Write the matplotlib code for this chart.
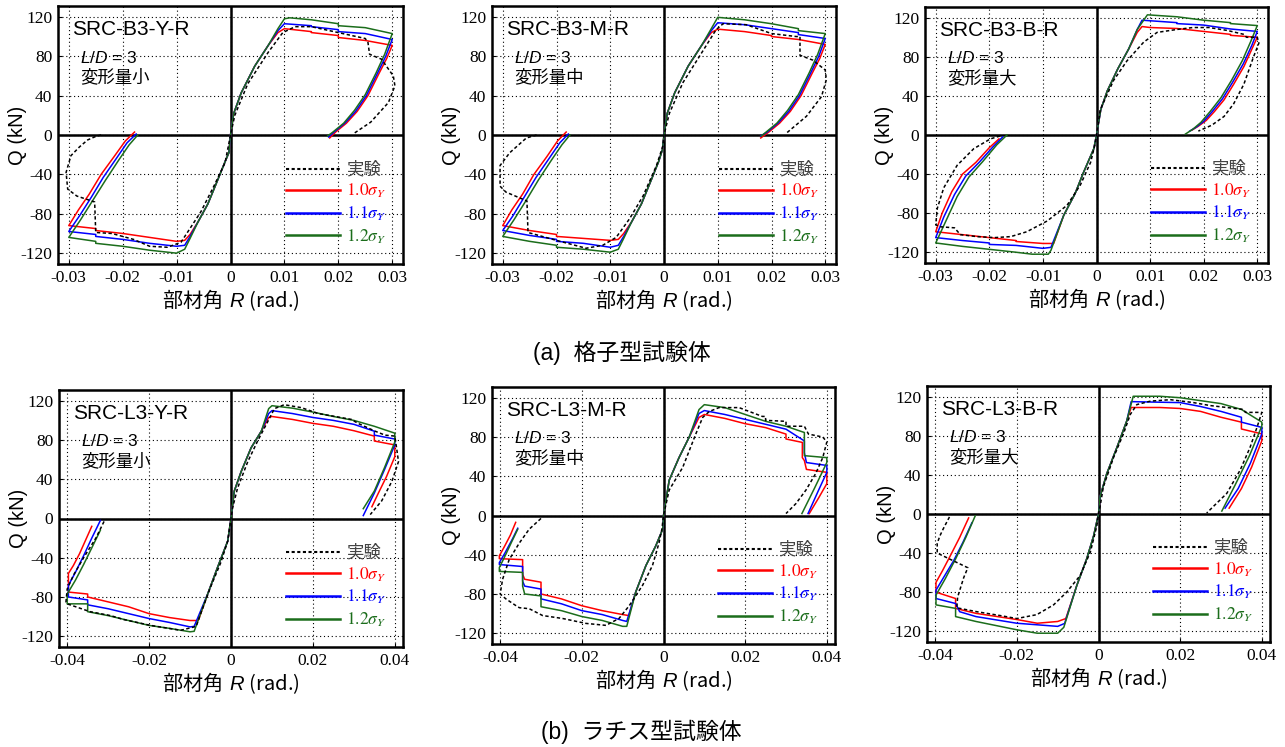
"""Load-deformation hysteresis (Q vs R): test vs. analysis with 1.0/1.1/1.2 sigma_Y."""
import matplotlib
matplotlib.use("Agg")
import matplotlib.pyplot as plt
from matplotlib.lines import Line2D

plt.rcParams["font.family"] = ["Liberation Sans", "Noto Sans CJK JP", "DejaVu Sans"]
plt.rcParams["axes.unicode_minus"] = False
plt.rcParams["mathtext.fontset"] = "custom"
plt.rcParams["mathtext.rm"] = "Liberation Sans"
plt.rcParams["mathtext.it"] = "Liberation Sans:italic"

W, H = 1285, 747

# ---- data: (R [rad], Q [kN]) ----
# (a) lattice type, L/D = 3
b3y_exp = [(-0.0240, 0), (-0.0248, -1), (-0.0265, -5), (-0.0280, -12), (-0.0296, -21), (-0.0305, -38),
           (-0.0302, -55), (-0.0285, -62), (-0.0252, -68), (-0.0250, -99), (-0.0220, -100), (-0.0180, -106),
           (-0.0150, -113), (-0.0117, -114), (-0.0092, -109), (-0.0080, -99), (-0.0055, -78), (-0.0030, -51),
           (-0.0010, -28), (0.0, 0), (0.0008, 20), (0.0032, 52), (0.0070, 84), (0.0097, 104), (0.0120, 110),
           (0.0150, 110), (0.0200, 104), (0.0250, 98), (0.0255, 94), (0.0258, 82), (0.0280, 77), (0.0302, 60),
           (0.0305, 50), (0.0293, 33), (0.0260, 13), (0.0230, 2)]
b3y_10 = [(-0.0178, 3), (-0.0195, -6), (-0.0216, -22), (-0.0240, -40), (-0.0262, -60), (-0.0282, -76),
          (-0.0300, -92), (-0.0250, -95), (-0.0250, -97), (-0.0200, -100), (-0.0150, -104), (-0.0100, -108),
          (-0.0085, -107), (-0.0075, -101), (-0.0060, -88), (-0.0042, -70), (-0.0024, -46), (-0.0010, -27),
          (-0.0003, -18), (0.0, 0), (0.0006, 22), (0.0020, 43), (0.0045, 70), (0.0070, 91), (0.0088, 104),
          (0.0100, 108), (0.0150, 105), (0.0150, 104), (0.0200, 101), (0.0200, 99), (0.0250, 96), (0.0300, 91),
          (0.0290, 78), (0.0275, 62), (0.0255, 40), (0.0235, 24), (0.0215, 12), (0.0195, 3), (0.0184, -3)]
b3y_11 = [(-0.0175, 1), (-0.0192, -8), (-0.0212, -24), (-0.0236, -43), (-0.0258, -63), (-0.0280, -82),
          (-0.0300, -98), (-0.0250, -101), (-0.0250, -103), (-0.0200, -106), (-0.0150, -110), (-0.0100, -113),
          (-0.0085, -112), (-0.0075, -103), (-0.0060, -88), (-0.0042, -70), (-0.0024, -46), (-0.0010, -27),
          (-0.0003, -18), (0.0, 0), (0.0006, 22), (0.0020, 43), (0.0045, 70), (0.0070, 91), (0.0088, 106),
          (0.0100, 113), (0.0150, 111), (0.0150, 110), (0.0200, 107), (0.0200, 105), (0.0250, 103), (0.0300, 97),
          (0.0288, 80), (0.0272, 62), (0.0252, 40), (0.0232, 24), (0.0212, 12), (0.0192, 3), (0.0182, -2)]
b3y_12 = [(-0.0172, 0), (-0.0188, -10), (-0.0208, -26), (-0.0232, -46), (-0.0255, -66), (-0.0278, -86),
          (-0.0300, -104), (-0.0250, -108), (-0.0250, -110), (-0.0200, -113), (-0.0150, -117), (-0.0100, -120),
          (-0.0085, -116), (-0.0075, -105), (-0.0060, -88), (-0.0042, -70), (-0.0024, -46), (-0.0010, -27),
          (-0.0003, -18), (0.0, 0), (0.0006, 22), (0.0020, 43), (0.0045, 70), (0.0070, 91), (0.0088, 108),
          (0.0100, 118), (0.0110, 119), (0.0150, 117), (0.0200, 113), (0.0200, 111), (0.0250, 109), (0.0300, 103),
          (0.0286, 82), (0.0270, 63), (0.0250, 41), (0.0230, 25), (0.0210, 12), (0.0190, 3), (0.0180, -1)]

b3m_exp = [(-0.0237, 0), (-0.0256, -3), (-0.0287, -18), (-0.0305, -31), (-0.0305, -52), (-0.0294, -58),
           (-0.0255, -67), (-0.0253, -99), (-0.0200, -107), (-0.0145, -115), (-0.0114, -112), (-0.0089, -104),
           (-0.0064, -85), (-0.0039, -62), (-0.0014, -31), (-0.0002, -11), (0.0, 0), (0.0010, 22), (0.0035, 53),
           (0.0073, 86), (0.0097, 107), (0.0110, 113), (0.0153, 112), (0.0200, 103), (0.0246, 100), (0.0253, 100),
           (0.0253, 81), (0.0277, 76), (0.0300, 66), (0.0302, 56), (0.0293, 39), (0.0265, 19), (0.0228, 2)]
b3m_10 = [(-0.0182, 3), (-0.0198, -6), (-0.0218, -22), (-0.0242, -40), (-0.0263, -60), (-0.0283, -76),
          (-0.0300, -92), (-0.0250, -97), (-0.0200, -101), (-0.0200, -103), (-0.0150, -105), (-0.0100, -107),
          (-0.0085, -106), (-0.0075, -100), (-0.0060, -88), (-0.0042, -70), (-0.0024, -46), (-0.0010, -27),
          (-0.0003, -15), (0.0, 0), (0.0006, 22), (0.0020, 43), (0.0045, 70), (0.0070, 91), (0.0088, 104),
          (0.0100, 107.5), (0.0150, 105), (0.0200, 101), (0.0200, 100), (0.0250, 97), (0.0300, 92),
          (0.0290, 78), (0.0275, 62), (0.0255, 40), (0.0235, 24), (0.0215, 12), (0.0195, 3), (0.0180, -3)]
b3m_11 = [(-0.0178, 1), (-0.0194, -8), (-0.0214, -24), (-0.0238, -43), (-0.0260, -63), (-0.0281, -82),
          (-0.0300, -97), (-0.0250, -102), (-0.0200, -106), (-0.0200, -108), (-0.0150, -110), (-0.0100, -114),
          (-0.0085, -112), (-0.0075, -103), (-0.0060, -88), (-0.0042, -70), (-0.0024, -46), (-0.0010, -27),
          (-0.0003, -15), (0.0, 0), (0.0006, 22), (0.0020, 43), (0.0045, 70), (0.0070, 91), (0.0088, 106),
          (0.0100, 114), (0.0150, 112), (0.0200, 108), (0.0250, 104), (0.0250, 102), (0.0300, 98),
          (0.0288, 80), (0.0272, 62), (0.0252, 40), (0.0232, 24), (0.0212, 12), (0.0192, 3), (0.0180, -1)]
b3m_12 = [(-0.0175, 0), (-0.0190, -10), (-0.0210, -26), (-0.0234, -46), (-0.0256, -66), (-0.0279, -86),
          (-0.0300, -103), (-0.0250, -108), (-0.0200, -112), (-0.0200, -114), (-0.0150, -116), (-0.0100, -119),
          (-0.0085, -116), (-0.0075, -105), (-0.0060, -88), (-0.0042, -70), (-0.0024, -46), (-0.0010, -27),
          (-0.0003, -15), (0.0, 0), (0.0006, 22), (0.0020, 43), (0.0045, 70), (0.0070, 91), (0.0088, 108),
          (0.0100, 119.5), (0.0150, 117), (0.0200, 113), (0.0250, 108), (0.0250, 106), (0.0300, 103),
          (0.0286, 82), (0.0270, 63), (0.0250, 41), (0.0230, 25), (0.0210, 12), (0.0190, 3), (0.0181, -1)]

b3b_exp = [(-0.0180, -1), (-0.0198, -4), (-0.0229, -14), (-0.0260, -31), (-0.0285, -54), (-0.0297, -75),
           (-0.0300, -92), (-0.0290, -94), (-0.0265, -95), (-0.0254, -102), (-0.0223, -104), (-0.0190, -105),
           (-0.0160, -104), (-0.0130, -99), (-0.0092, -88), (-0.0055, -72), (-0.0030, -51), (-0.0011, -28),
           (-0.0002, -8), (0.0, 0), (0.0007, 26), (0.0032, 56), (0.0057, 76), (0.0088, 95), (0.0113, 105),
           (0.0150, 108), (0.0180, 110), (0.0210, 110), (0.0244, 107), (0.0275, 103), (0.0280, 100), (0.0300, 100),
           (0.0303, 94), (0.0293, 80), (0.0275, 52), (0.0256, 32), (0.0238, 19), (0.0215, 10), (0.0190, 4)]
b3b_10 = [(-0.0182, -4), (-0.0200, -13), (-0.0225, -28), (-0.0250, -40), (-0.0270, -58), (-0.0288, -80),
          (-0.0300, -99), (-0.0250, -102), (-0.0200, -105), (-0.0150, -108), (-0.0150, -109), (-0.0100, -111),
          (-0.0080, -111), (-0.0061, -82), (-0.0040, -60), (-0.0024, -38), (-0.0005, -14), (0.0, 0),
          (0.0008, 26), (0.0020, 45), (0.0040, 68), (0.0060, 88), (0.0076, 105), (0.0085, 111), (0.0100, 110),
          (0.0150, 109), (0.0200, 106), (0.0250, 103), (0.0250, 102), (0.0300, 100), (0.0290, 88), (0.0275, 70),
          (0.0256, 52), (0.0238, 36), (0.0220, 24), (0.0205, 15), (0.0190, 9), (0.0178, 5)]
b3b_11 = [(-0.0175, -2), (-0.0193, -12), (-0.0219, -28), (-0.0244, -42), (-0.0265, -61), (-0.0285, -84),
          (-0.0300, -105), (-0.0250, -108), (-0.0200, -110.5), (-0.0200, -112), (-0.0150, -113), (-0.0100, -116),
          (-0.0085, -115), (-0.0061, -82), (-0.0040, -60), (-0.0024, -38), (-0.0005, -14), (0.0, 0),
          (0.0008, 26), (0.0020, 45), (0.0040, 68), (0.0060, 88), (0.0076, 108), (0.0085, 117.5), (0.0150, 115),
          (0.0150, 114), (0.0200, 112.5), (0.0250, 108.5), (0.0300, 106), (0.0290, 92), (0.0274, 73),
          (0.0254, 54), (0.0235, 37), (0.0216, 24), (0.0200, 14), (0.0186, 8), (0.0174, 4)]
b3b_12 = [(-0.0167, 0), (-0.0186, -10), (-0.0212, -27), (-0.0238, -43), (-0.0260, -63), (-0.0281, -88),
          (-0.0300, -110.5), (-0.0250, -114), (-0.0200, -117), (-0.0150, -120), (-0.0120, -122), (-0.0090, -122),
          (-0.0085, -118), (-0.0061, -82), (-0.0040, -60), (-0.0024, -38), (-0.0005, -14), (0.0, 0),
          (0.0008, 26), (0.0020, 45), (0.0040, 68), (0.0060, 88), (0.0076, 108), (0.0095, 123), (0.0150, 121),
          (0.0200, 117.5), (0.0250, 115), (0.0250, 114), (0.0300, 112), (0.0288, 96), (0.0272, 76),
          (0.0252, 56), (0.0232, 38), (0.0212, 24), (0.0195, 13), (0.0180, 6), (0.0166, 1)]

# (b) lattice-bar (ラチス) type, L/D = 3
l3y_exp = [(-0.0310, -3), (-0.0330, -20), (-0.0360, -40), (-0.0385, -58), (-0.0400, -72), (-0.0403, -85),
           (-0.0400, -87), (-0.0344, -95), (-0.0294, -99), (-0.0262, -103), (-0.0196, -109), (-0.0123, -114),
           (-0.0085, -110), (-0.0074, -97), (-0.0050, -70), (-0.0025, -45), (-0.0008, -23), (0.0, 0),
           (0.0004, 11), (0.0016, 31), (0.0041, 58), (0.0065, 79), (0.0090, 99), (0.0106, 112), (0.0130, 116),
           (0.0172, 113), (0.0213, 107), (0.0254, 104), (0.0294, 101), (0.0310, 97), (0.0352, 89), (0.0376, 85),
           (0.0400, 84), (0.0405, 70), (0.0409, 58), (0.0393, 38), (0.0368, 18), (0.0340, 4)]
l3y_10 = [(-0.0340, -8), (-0.0355, -22), (-0.0370, -36), (-0.0385, -48), (-0.0397, -56), (-0.0397, -75),
          (-0.0350, -77), (-0.0350, -80), (-0.0300, -85), (-0.0250, -90), (-0.0200, -97), (-0.0150, -101),
          (-0.0100, -104), (-0.0080, -104), (-0.0057, -77), (-0.0033, -50), (-0.0008, -23), (0.0, 0),
          (0.0008, 28), (0.0025, 48), (0.0049, 72), (0.0074, 89), (0.0092, 103), (0.0100, 104), (0.0150, 101),
          (0.0200, 97), (0.0250, 94), (0.0300, 89.5), (0.0350, 84), (0.0350, 79), (0.0400, 75), (0.0400, 63),
          (0.0380, 43), (0.0360, 26), (0.0344, 12)]
l3y_11 = [(-0.0319, -2), (-0.0340, -20), (-0.0360, -38), (-0.0380, -55), (-0.0397, -68), (-0.0397, -80),
          (-0.0350, -83), (-0.0350, -88), (-0.0300, -92), (-0.0250, -97), (-0.0200, -102), (-0.0150, -106),
          (-0.0100, -110.5), (-0.0090, -110), (-0.0057, -77), (-0.0033, -50), (-0.0008, -23), (0.0, 0),
          (0.0008, 28), (0.0025, 48), (0.0049, 72), (0.0074, 89), (0.0092, 107), (0.0100, 110), (0.0150, 107),
          (0.0200, 103), (0.0250, 100), (0.0300, 96), (0.0350, 89), (0.0350, 85), (0.0400, 81), (0.0400, 75),
          (0.0375, 50), (0.0350, 26), (0.0323, 3)]
l3y_12 = [(-0.0319, -12), (-0.0340, -30), (-0.0360, -47), (-0.0380, -63), (-0.0400, -77), (-0.0400, -87),
          (-0.0350, -87), (-0.0350, -95), (-0.0300, -99), (-0.0250, -104), (-0.0200, -109), (-0.0150, -112),
          (-0.0100, -115.5), (-0.0090, -115), (-0.0057, -77), (-0.0033, -50), (-0.0008, -23), (0.0, 0),
          (0.0008, 28), (0.0025, 48), (0.0049, 72), (0.0074, 89), (0.0092, 112), (0.0100, 115), (0.0150, 112.5),
          (0.0200, 108.5), (0.0250, 104), (0.0300, 100), (0.0350, 94), (0.0400, 87), (0.0400, 78),
          (0.0375, 52), (0.0350, 28), (0.0323, 10)]

l3m_exp = [(-0.0300, -3), (-0.0329, -14), (-0.0353, -28), (-0.0378, -45), (-0.0394, -65), (-0.0400, -80),
           (-0.0386, -85), (-0.0361, -92), (-0.0353, -94), (-0.0329, -95), (-0.0296, -102), (-0.0247, -105),
           (-0.0190, -110), (-0.0141, -112), (-0.0109, -105), (-0.0084, -92), (-0.0051, -71), (-0.0027, -51),
           (-0.0011, -28), (-0.0004, -14), (0.0, 0), (0.0014, 26), (0.0047, 49), (0.0079, 83), (0.0096, 100),
           (0.0112, 106), (0.0136, 110), (0.0185, 110), (0.0242, 101), (0.0250, 101), (0.0250, 97), (0.0300, 96),
           (0.0300, 91), (0.0345, 91), (0.0355, 83), (0.0390, 80), (0.0400, 75), (0.0390, 59), (0.0373, 43),
           (0.0349, 26), (0.0324, 12), (0.0300, 2)]
l3m_10 = [(-0.0362, -7), (-0.0375, -20), (-0.0390, -32), (-0.0402, -41), (-0.0402, -44), (-0.0345, -45),
          (-0.0345, -60), (-0.0340, -65), (-0.0300, -68), (-0.0300, -80), (-0.0250, -85), (-0.0200, -92),
          (-0.0150, -97), (-0.0100, -101), (-0.0085, -102), (-0.0068, -78), (-0.0043, -51), (-0.0019, -31),
          (-0.0002, -14), (0.0, 0), (0.0014, 36), (0.0038, 59), (0.0063, 80), (0.0087, 100), (0.0100, 103),
          (0.0150, 99), (0.0200, 93.6), (0.0250, 89.6), (0.0300, 83), (0.0300, 78), (0.0340, 74.5),
          (0.0340, 59), (0.0345, 56), (0.0350, 47), (0.0400, 44), (0.0400, 32.5), (0.0380, 18), (0.0357, 2)]
l3m_11 = [(-0.0357, -13), (-0.0370, -24), (-0.0388, -38), (-0.0402, -48), (-0.0402, -50), (-0.0345, -52),
          (-0.0345, -67), (-0.0340, -72), (-0.0300, -75), (-0.0300, -85), (-0.0250, -90), (-0.0200, -97),
          (-0.0150, -101), (-0.0100, -107), (-0.0090, -108), (-0.0068, -78), (-0.0043, -51), (-0.0019, -31),
          (-0.0002, -14), (0.0, 0), (0.0014, 36), (0.0038, 59), (0.0063, 80), (0.0087, 104), (0.0100, 107),
          (0.0150, 103), (0.0200, 98), (0.0250, 93), (0.0300, 88), (0.0345, 76), (0.0345, 64), (0.0350, 54),
          (0.0400, 51), (0.0400, 44), (0.0380, 26), (0.0354, 2)]
l3m_12 = [(-0.0357, -14), (-0.0372, -27), (-0.0390, -43), (-0.0402, -53), (-0.0402, -57), (-0.0345, -58),
          (-0.0345, -72), (-0.0340, -80), (-0.0300, -82), (-0.0300, -93), (-0.0250, -97), (-0.0200, -103),
          (-0.0150, -107), (-0.0100, -113), (-0.0090, -113), (-0.0068, -78), (-0.0043, -51), (-0.0019, -31),
          (-0.0002, -14), (0.0, 0), (0.0014, 36), (0.0038, 59), (0.0063, 80), (0.0087, 108), (0.0100, 113),
          (0.0150, 110), (0.0200, 103), (0.0250, 96), (0.0300, 91), (0.0345, 84.6), (0.0345, 61),
          (0.0400, 59), (0.0400, 54), (0.0370, 28), (0.0339, 2)]

l3b_exp = [(-0.0365, -3), (-0.0380, -15), (-0.0388, -22), (-0.0395, -30), (-0.0395, -40), (-0.0320, -55),
           (-0.0330, -65), (-0.0345, -85), (-0.0347, -96), (-0.0298, -100), (-0.0240, -104), (-0.0200, -107),
           (-0.0151, -103), (-0.0110, -93), (-0.0078, -80), (-0.0045, -63), (-0.0020, -39), (-0.0004, -12),
           (0.0, 0), (0.0004, 8), (0.0012, 28), (0.0037, 58), (0.0061, 82), (0.0078, 102), (0.0094, 112),
           (0.0127, 115.5), (0.0176, 117), (0.0233, 114), (0.0273, 111), (0.0314, 109), (0.0355, 107),
           (0.0360, 104), (0.0400, 104), (0.0388, 88.5), (0.0371, 68), (0.0347, 45), (0.0314, 21),
           (0.0282, 8), (0.0265, 1)]
l3b_10 = [(-0.0318, -4), (-0.0340, -24), (-0.0362, -42), (-0.0382, -58), (-0.0398, -70), (-0.0398, -80),
          (-0.0350, -86.5), (-0.0350, -96.6), (-0.0300, -101.7), (-0.0200, -108), (-0.0150, -111.8),
          (-0.0100, -110), (-0.0080, -107), (-0.0053, -73), (-0.0029, -46), (-0.0012, -22.5), (0.0, 0),
          (0.0004, 18), (0.0020, 41), (0.0045, 68), (0.0069, 95), (0.0080, 109), (0.0150, 109), (0.0200, 108),
          (0.0250, 105), (0.0300, 99), (0.0350, 94), (0.0350, 87), (0.0400, 82), (0.0400, 75), (0.0375, 48),
          (0.0350, 26), (0.0320, 6)]
l3b_11 = [(-0.0310, -9), (-0.0332, -29), (-0.0355, -48), (-0.0378, -64), (-0.0398, -78), (-0.0398, -86.5),
          (-0.0350, -91.6), (-0.0340, -100), (-0.0300, -105), (-0.0200, -111.8), (-0.0100, -115),
          (-0.0083, -112), (-0.0053, -73), (-0.0029, -46), (-0.0012, -22.5), (0.0, 0), (0.0004, 18),
          (0.0020, 41), (0.0045, 68), (0.0069, 95), (0.0080, 115), (0.0200, 114), (0.0250, 110), (0.0300, 105),
          (0.0350, 99), (0.0350, 94), (0.0400, 88.6), (0.0400, 82), (0.0372, 52), (0.0342, 26), (0.0310, 6)]
l3b_12 = [(-0.0302, -2), (-0.0325, -24), (-0.0350, -46), (-0.0375, -66), (-0.0398, -83), (-0.0398, -93),
          (-0.0350, -96.6), (-0.0350, -105), (-0.0300, -110), (-0.0200, -118.5), (-0.0150, -122),
          (-0.0100, -122), (-0.0085, -116), (-0.0053, -73), (-0.0029, -46), (-0.0012, -22.5), (0.0, 0),
          (0.0004, 18), (0.0020, 41), (0.0045, 68), (0.0069, 95), (0.0085, 120.5), (0.0150, 120.5),
          (0.0200, 119), (0.0250, 116), (0.0300, 113), (0.0350, 107), (0.0400, 94), (0.0400, 90),
          (0.0370, 60), (0.0335, 30), (0.0302, 3)]

panel_names = ["SRC-B3-Y-R", "SRC-B3-M-R", "SRC-B3-B-R", "SRC-L3-Y-R", "SRC-L3-M-R", "SRC-L3-B-R"]
panel_notes = ["変形量小", "変形量中", "変形量大", "変形量小", "変形量中", "変形量大"]
panel_series = [(b3y_exp, b3y_10, b3y_11, b3y_12), (b3m_exp, b3m_10, b3m_11, b3m_12),
                (b3b_exp, b3b_10, b3b_11, b3b_12), (l3y_exp, l3y_10, l3y_11, l3y_12),
                (l3m_exp, l3m_10, l3m_11, l3m_12), (l3b_exp, l3b_10, l3b_11, l3b_12)]
series_labels = ["実験", r"$1.0\sigma_Y$", r"$1.1\sigma_Y$", r"$1.2\sigma_Y$"]
series_colors = ["black", "#ff0000", "#0000ff", "#1b6d1b"]
text_colors = ["#444444", "#ff0000", "#0000ff", "#1b6d1b"]
xticks_a = [-0.03, -0.02, -0.01, 0, 0.01, 0.02, 0.03]
xticks_b = [-0.04, -0.02, 0, 0.02, 0.04]
xlabels_a = ["-0.03", "-0.02", "-0.01", "0", "0.01", "0.02", "0.03"]
xlabels_b = ["-0.04", "-0.02", "0", "0.02", "0.04"]
yticks = [-120, -80, -40, 0, 40, 80, 120]

# axes boxes in pixels (left, top, right, bottom)
boxes = [(58, 6, 403, 264), (492, 6, 836, 264), (925, 7, 1268, 263),
         (59, 390, 403, 647), (492, 387, 835, 644), (927, 386, 1270, 642)]

fig = plt.figure(figsize=(W / 100, H / 100), dpi=100)
grid_ls = (0, (1, 2.5))

for i, (x0, y0, x1, y1) in enumerate(boxes):
    ax = fig.add_axes([x0 / W, 1 - y1 / H, (x1 - x0) / W, (y1 - y0) / H])
    top = i < 3
    for k, data in enumerate(panel_series[i]):
        rr = [p[0] for p in data]
        qq = [p[1] for p in data]
        if k == 0:
            ax.plot(rr, qq, color="black", lw=1.1, ls=(0, (2.2, 1.6)), zorder=4, label=series_labels[k])
        else:
            ax.plot(rr, qq, color=series_colors[k], lw=1.1, zorder=3, label=series_labels[k])
    ax.axhline(0, color="black", lw=1.8, zorder=2)
    ax.axvline(0, color="black", lw=1.8, zorder=2)
    if top:
        ax.set_xlim(-0.032, 0.032)
        ax.set_xticks(xticks_a)
        ax.set_xticklabels(xlabels_a)
    else:
        ax.set_xlim(-0.042, 0.042)
        ax.set_xticks(xticks_b)
        ax.set_xticklabels(xlabels_b)
    ax.set_ylim(-131, 131)
    ax.set_yticks(yticks)
    ax.set_yticklabels([str(v) for v in yticks])
    ax.grid(True, color="black", lw=0.8, ls=grid_ls)
    ax.tick_params(direction="in", length=3, labelsize=12.5, labelfontfamily="Liberation Serif", pad=4)
    for s in ax.spines.values():
        s.set_linewidth(1.8)
    ax.set_ylabel("Q (kN)", fontsize=14.5, labelpad=-4.5)
    ax.set_xlabel(r"部材角 $\,R$ (rad.)", fontsize=14.5, labelpad=1, fontfamily="Noto Sans CJK JP")

    ax.text(0.04, 0.945, panel_names[i], transform=ax.transAxes, fontsize=15, va="top", ha="left")
    ax.text(0.065, 0.80, "$L/D$ = 3", transform=ax.transAxes, fontsize=12.5, va="center", ha="left")
    ax.text(0.065, 0.725, panel_notes[i], transform=ax.transAxes, fontsize=12.5, va="center", ha="left")

    handles = [Line2D([], [], color="black", lw=1.5, ls=(0, (1.5, 1.2)))] + \
              [Line2D([], [], color=c, lw=1.8) for c in series_colors[1:]]
    leg = ax.legend(handles, series_labels, loc="lower left", bbox_to_anchor=(0.66, 0.07),
                    frameon=False, fontsize=12.5, handlelength=3.1, handletextpad=0.35,
                    labelspacing=0.25, borderpad=0, borderaxespad=0)
    for t, c in zip(leg.get_texts(), text_colors):
        t.set_color(c)
        if t.get_text().startswith("$"):
            t.set_math_fontfamily("stix")

fig.text(622 / W, 1 - 353 / H, "(a)  格子型試験体", fontsize=16.5, ha="center", va="center")
fig.text(641 / W, 1 - 732 / H, "(b)  ラチス型試験体", fontsize=16.5, ha="center", va="center")

fig.savefig("out.png", dpi=100)
